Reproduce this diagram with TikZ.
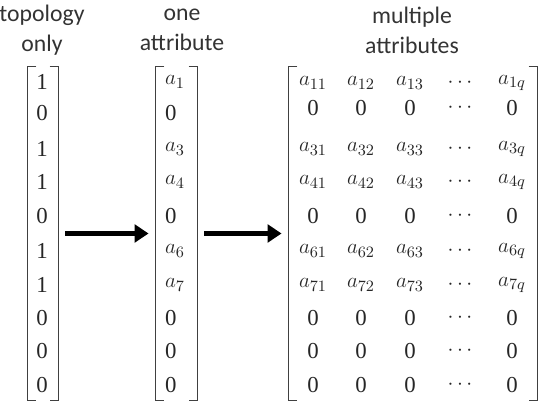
\documentclass[tikz,border=0pt]{standalone}
\usepackage{fontspec}
\setmainfont{Liberation Serif}
\newfontfamily\headfont{Carlito}
\usetikzlibrary{arrows.meta,fit,positioning}

\begin{document}
\begin{tikzpicture}[
  x=0.02cm,y=-0.02cm,
  every node/.style={font=\fontsize{13}{15}\selectfont,inner sep=1pt},
  head/.style={font=\headfont\fontsize{13.5}{17}\selectfont,align=center,text=black!80},
  entry/.style={text=black!85},
  mat/.style={inner sep=0pt},
  bracket/.style={line width=0.6pt,draw=black!75},
  bigflow/.style={-{Triangle[length=8pt,width=10pt]},line width=3.2pt,shorten <=4pt,shorten >=4pt}
]
  \useasboundingbox (0,0) rectangle (540,404);

  % column titles
  \node[head] (t1) at (42,30) {topology\\only};
  \node[head] (t2) at (182,30) {one\\attribute};
  \node[head] (t3) at (412,30) {multiple\\attributes};

  % matrix frames
  \node[mat,fit={(28,67) (58,400)}] (m1) {};
  \node[mat,fit={(156,67) (197,400)}] (m2) {};
  \node[mat,fit={(289,67) (537,400)}] (m3) {};
  \foreach \m in {m1,m2,m3}{
    \draw[bracket] ([xshift=5]\m.north west) -- (\m.north west) -- (\m.south west) -- ([xshift=5]\m.south west);
    \draw[bracket] ([xshift=-5]\m.north east) -- (\m.north east) -- (\m.south east) -- ([xshift=-5]\m.south east);
  }

  % topology only
  \foreach \v/\y [count=\i] in {1/82,0/113,1/149,1/182,0/216,1/251,1/285,0/318,0/351,0/385}
    \node[entry] (u\i) at (42,\y) {\v};

  % one attribute
  \foreach \v/\y [count=\i] in {$a_1$/82,0/113,$a_3$/149,$a_4$/182,0/216,$a_6$/251,$a_7$/285,0/318,0/351,0/385}
    \node[entry,anchor=west] (v\i) at (163,\y) {\v};

  % multiple attributes
  \foreach \r/\y [count=\i] in {1/83,0/108,3/149,4/182,0/216,6/251,7/285,0/318,0/351,0/385}{
    \ifnum\r=0
      \foreach \x [count=\j] in {313,361,410,512}
        \node[entry] (w\i\j) at (\x,\y) {0};
    \else
      \foreach \x/\c [count=\j] in {313/1,361/2,410/3,512/q}
        \node[entry] (w\i\j) at (\x,\y) {$a_{\r\c}$};
    \fi
    \node[entry] (d\i) at (460,\y) {$\cdots$};
  }

  % arrows
  \draw[bigflow] (m1.east) -- (m2.west);
  \draw[bigflow] (m2.east) -- (m3.west);
\end{tikzpicture}
\end{document}
